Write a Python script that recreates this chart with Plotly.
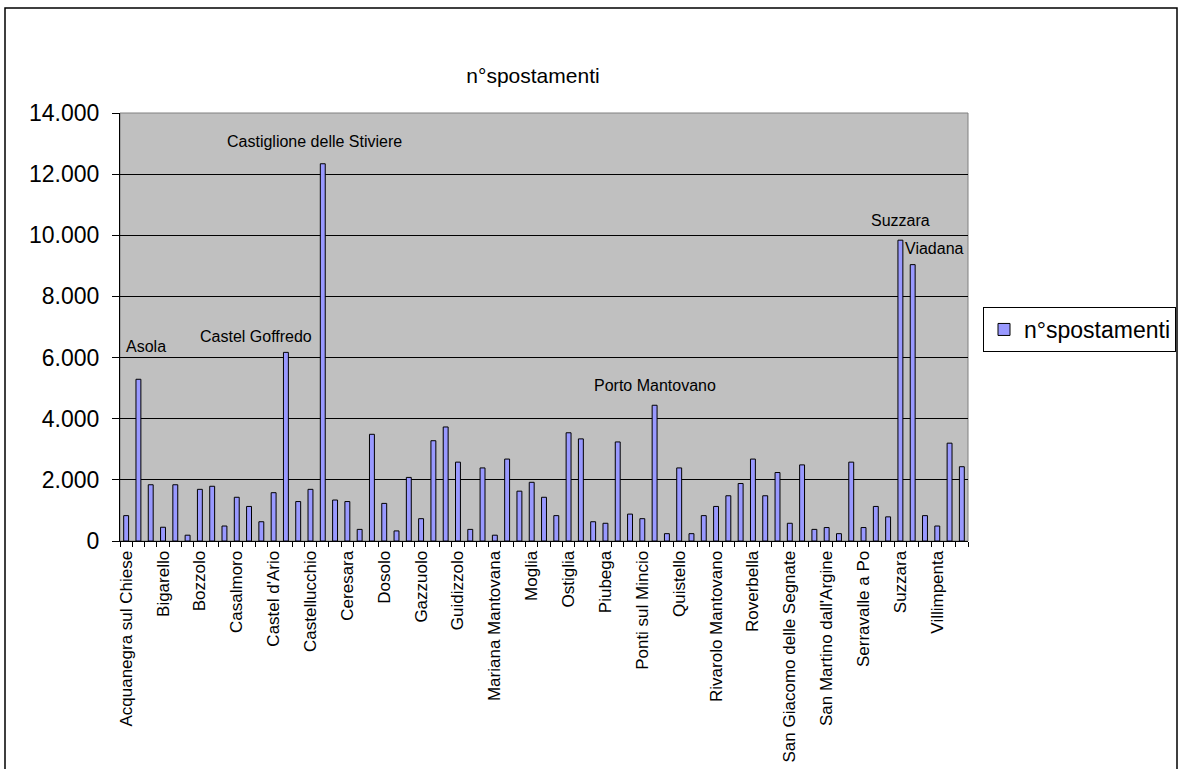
import plotly.graph_objects as go

comuni = [
    "Acquanegra sul Chiese", "Asola", "Bagnolo San Vito", "Bigarello", "Borgoforte",
    "Borgofranco sul Po", "Bozzolo", "Canneto sull'Oglio", "Carbonara di Po", "Casalmoro",
    "Casaloldo", "Casalromano", "Castel d'Ario", "Castel Goffredo", "Castelbelforte",
    "Castellucchio", "Castiglione delle Stiviere", "Cavriana", "Ceresara", "Commessaggio",
    "Curtatone", "Dosolo", "Felonica", "Gazoldo degli Ippoliti", "Gazzuolo",
    "Goito", "Gonzaga", "Guidizzolo", "Magnacavallo", "Marcaria",
    "Mariana Mantovana", "Marmirolo", "Medole", "Moglia", "Monzambano",
    "Motteggiana", "Ostiglia", "Pegognaga", "Pieve di Coriano", "Piubega",
    "Poggio Rusco", "Pomponesco", "Ponti sul Mincio", "Porto Mantovano", "Quingentole",
    "Quistello", "Redondesco", "Revere", "Rivarolo Mantovano", "Rodigo",
    "Roncoferraro", "Roverbella", "Sabbioneta", "San Benedetto Po", "San Giacomo delle Segnate",
    "San Giorgio di Mantova", "San Giovanni del Dosso", "San Martino dall'Argine", "Schivenoglia", "Sermide",
    "Serravalle a Po", "Solferino", "Sustinente", "Suzzara", "Viadana",
    "Villa Poma", "Villimpenta", "Virgilio", "Volta Mantovana",
]

spostamenti = [
    830, 5290, 1840, 450, 1840,
    190, 1690, 1790, 490, 1430,
    1130, 630, 1580, 6170, 1290,
    1690, 12340, 1340, 1290, 380,
    3490, 1230, 330, 2080, 730,
    3280, 3730, 2580, 380, 2390,
    190, 2680, 1630, 1920, 1430,
    830, 3540, 3340, 630, 580,
    3240, 880, 730, 4440, 240,
    2390, 240, 830, 1130, 1480,
    1880, 2680, 1480, 2240, 580,
    2490, 380, 440, 240, 2580,
    440, 1130, 790, 9840, 9040,
    830, 490, 3200, 2430,
]

# labelled bars: (comune, x shift px, y shift px above bar top)
bar_labels = [
    ("Asola", 8, 33),
    ("Castel Goffredo", -30, 16),
    ("Castiglione delle Stiviere", -8, 22),
    ("Porto Mantovano", 0, 20),
    ("Suzzara", 0, 20),
    ("Viadana", 22, 16),
]

y_ticks = [0, 2000, 4000, 6000, 8000, 10000, 12000, 14000]

tick_text = [c if i % 3 == 0 else "" for i, c in enumerate(comuni)]

FONT = "Arial, Liberation Sans, sans-serif"

fig = go.Figure()
fig.add_trace(go.Bar(
    x=comuni, y=spostamenti, name="n°spostamenti",
    marker=dict(color="#9999FF", line=dict(color="#000000", width=1)),
    showlegend=True,
))

L, R, T, B = 120, 210, 113, 228
W, H = 1178, 769
pw, ph = W - L - R, H - T - B

for name, dx, dy in bar_labels:
    idx = comuni.index(name)
    fig.add_annotation(
        x=name, y=spostamenti[idx], xref="x", yref="y",
        text=name, showarrow=False, xshift=dx, yshift=dy,
        yanchor="middle", xanchor="center",
        font=dict(family=FONT, size=16, color="black"),
    )

def px_x(p):
    return (p - L) / pw

def px_y(p):
    return (H - B - p) / ph

# outer chart frame
fig.add_shape(type="rect", xref="paper", yref="paper",
              x0=px_x(5), x1=px_x(1177), y0=px_y(8), y1=px_y(780),
              line=dict(color="black", width=1.5), layer="below")

fig.update_layout(
    template="none",
    width=W, height=H,
    margin=dict(l=L, r=R, t=T, b=B, autoexpand=False),
    paper_bgcolor="white",
    plot_bgcolor="#C0C0C0",
    separators=",.",
    bargap=0.6,
    font=dict(family=FONT, color="black"),
    title=dict(text="n°spostamenti", x=px_x(533), xref="paper", xanchor="center",
               y=1 - 76 / H, yanchor="middle",
               font=dict(family=FONT, size=21, color="black")),
    legend=dict(x=px_x(983), y=px_y(307), xanchor="left", yanchor="top",
                bgcolor="white", bordercolor="#000000", borderwidth=1,
                font=dict(family=FONT, size=23, color="black"),
                itemwidth=30),
    xaxis=dict(
        type="category", automargin=False,
        tickmode="array", tickvals=comuni, ticktext=tick_text,
        tickson="boundaries", ticks="outside", ticklen=5, tickcolor="black",
        tickangle=-90, tickfont=dict(family=FONT, size=17, color="black"),
        ticklabelstandoff=2,
        showline=True, linecolor="black", linewidth=1,
        showgrid=False, mirror=False,
        range=[-0.5, len(comuni) - 0.5],
    ),
    yaxis=dict(
        automargin=False,
        range=[0, 14000], tickvals=y_ticks, tickformat=",d",
        ticks="outside", ticklen=7, tickcolor="black",
        tickfont=dict(family=FONT, size=23, color="black"),
        ticklabelstandoff=8,
        showline=True, linecolor="black", linewidth=1,
        showgrid=True, gridcolor="black", gridwidth=1,
        zeroline=False,
    ),
)

# gray border on top/right of plot area
fig.add_shape(type="rect", xref="paper", yref="paper", x0=0, x1=1, y0=0, y1=1,
              line=dict(color="#808080", width=1), layer="below")

fig.write_html("out.html", config={"displayModeBar": False},
               post_script="document.body.style.margin='0';document.body.style.overflow='hidden';")
